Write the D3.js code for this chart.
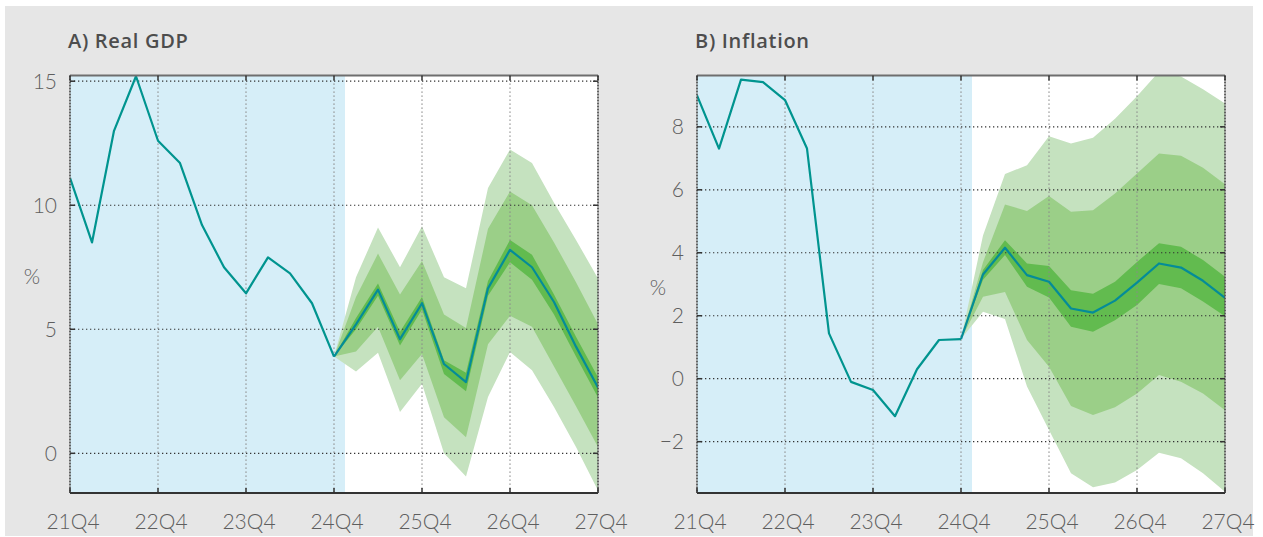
<!DOCTYPE html>
<html>
<head>
<meta charset="utf-8">
<script src="https://cdn.jsdelivr.net/npm/d3@7"></script>
<style>
body { margin: 0; background: #fff; }
text { font-family: Lato, "Open Sans", sans-serif; }
</style>
</head>
<body>
<script>
var width = 1263;
var height = 537;

// quarters on the x axis, 21Q4 .. 27Q4
var quarters = ["21Q4","22Q1","22Q2","22Q3","22Q4","23Q1","23Q2","23Q3","23Q4",
                "24Q1","24Q2","24Q3","24Q4","25Q1","25Q2","25Q3","25Q4",
                "26Q1","26Q2","26Q3","26Q4","27Q1","27Q2","27Q3","27Q4"];
var yearTicks = ["21Q4","22Q4","23Q4","24Q4","25Q4","26Q4","27Q4"];
var histQuarters = quarters.slice(0, 13);   // 21Q4 .. 24Q4
var fcQuarters = quarters.slice(12);        // 24Q4 .. 27Q4

// A) Real GDP
var gdpHist = [11.1, 8.5, 13.0, 15.2, 12.6, 11.7, 9.2, 7.5, 6.45, 7.9, 7.25, 6.05, 3.9];
var gdpMedian = [3.9, 5.2, 6.6, 4.6, 6.05, 3.6, 2.87, 6.65, 8.2, 7.5, 6.1, 4.3, 2.65];
var gdpOuterHi = [3.9, 7.1, 9.1, 7.5, 9.15, 7.1, 6.65, 10.7, 12.25, 11.7, 10.1, 8.6, 7.05];
var gdpMidHi = [3.9, 6.3, 8.05, 6.4, 7.75, 5.6, 5.05, 9.05, 10.55, 10.0, 8.5, 6.9, 5.2];
var gdpInnerHi = [3.9, 5.45, 6.85, 4.9, 6.3, 3.75, 3.25, 6.95, 8.6, 8.0, 6.4, 4.7, 3.07];
var gdpInnerLo = [3.9, 5.0, 6.35, 4.35, 5.8, 3.2, 2.5, 6.35, 7.7, 7.0, 5.6, 3.9, 2.25];
var gdpMidLo = [3.9, 4.1, 5.1, 2.95, 4.0, 1.45, 0.65, 4.4, 5.55, 5.1, 3.5, 1.9, 0.25];
var gdpOuterLo = [3.9, 3.3, 4.05, 1.67, 2.8, 0.0, -0.93, 2.27, 4.08, 3.35, 1.87, 0.25, -1.5];
var gdpTicks = [0, 5, 10, 15];

// B) Inflation
var cpiHist = [9.0, 7.31, 9.5, 9.42, 8.85, 7.31, 1.44, -0.1, -0.36, -1.19, 0.3, 1.23, 1.26];
var cpiMedian = [1.26, 3.31, 4.16, 3.29, 3.08, 2.23, 2.1, 2.48, 3.05, 3.66, 3.53, 3.11, 2.57];
var cpiOuterHi = [1.26, 4.55, 6.5, 6.78, 7.7, 7.47, 7.65, 8.26, 8.97, 9.75, 9.6, 9.19, 8.74];
var cpiMidHi = [1.26, 3.7, 5.53, 5.33, 5.8, 5.3, 5.35, 5.88, 6.52, 7.15, 7.08, 6.7, 6.18];
var cpiInnerHi = [1.26, 3.45, 4.4, 3.66, 3.58, 2.81, 2.7, 3.08, 3.71, 4.3, 4.19, 3.77, 3.24];
var cpiInnerLo = [1.26, 3.14, 3.93, 2.92, 2.58, 1.65, 1.49, 1.86, 2.34, 3.01, 2.87, 2.45, 1.98];
var cpiMidLo = [1.26, 2.6, 2.75, 1.23, 0.38, -0.87, -1.15, -0.91, -0.47, 0.12, -0.1, -0.47, -1.0];
var cpiOuterLo = [1.26, 2.13, 1.9, -0.25, -1.63, -3.0, -3.45, -3.3, -2.9, -2.35, -2.53, -3.0, -3.59];
var cpiTicks = [-2, 0, 2, 4, 6, 8];

var lineColor = "#00948f";
var bandColors = ["#c5e2bf", "#9bcf88", "#62bb4f"];

var svg = d3.select("body").append("svg")
    .attr("width", width)
    .attr("height", height);

svg.append("rect")
    .attr("x", 5).attr("y", 6)
    .attr("width", 1248).attr("height", 530)
    .attr("fill", "#e6e6e6");

function drawPanel(p) {
  var top = 75.5, bottom = 493;
  var x = d3.scalePoint().domain(quarters).range([p.left, p.right]);
  var y = d3.scaleLinear().domain(p.domain).range([bottom, top]);
  var step = x.step();

  var g = svg.append("g");

  g.append("clipPath").attr("id", p.id + "clip")
    .append("rect")
    .attr("x", p.left).attr("y", top)
    .attr("width", p.right - p.left).attr("height", bottom - top);

  g.append("rect")
    .attr("x", p.left).attr("y", top)
    .attr("width", p.right - p.left).attr("height", bottom - top)
    .attr("fill", "#fff");

  // history shading up to half a quarter after 24Q4
  g.append("rect")
    .attr("x", p.left).attr("y", top)
    .attr("width", x("24Q4") + step / 2 - p.left).attr("height", bottom - top)
    .attr("fill", "#d6eef8");

  var plot = g.append("g").attr("clip-path", "url(#" + p.id + "clip)");

  var bands = [[p.outerLo, p.outerHi], [p.midLo, p.midHi], [p.innerLo, p.innerHi]];
  bands.forEach(function(b, k) {
    var area = d3.area()
      .x(function(d, i) { return x(fcQuarters[i]); })
      .y0(function(d, i) { return y(b[0][i]); })
      .y1(function(d, i) { return y(b[1][i]); });
    plot.append("path")
      .datum(fcQuarters)
      .attr("d", area)
      .attr("fill", bandColors[k]);
  });

  // gridlines
  plot.selectAll(".vgrid")
    .data(yearTicks.slice(1, -1))
    .enter().append("line")
    .attr("x1", function(d) { return x(d); })
    .attr("x2", function(d) { return x(d); })
    .attr("y1", top).attr("y2", bottom)
    .attr("stroke", "#8a8a8a")
    .attr("stroke-width", 1.3)
    .attr("stroke-dasharray", "1.3,2.7");

  plot.selectAll(".hgrid")
    .data(p.ticks)
    .enter().append("line")
    .attr("x1", p.left).attr("x2", p.right)
    .attr("y1", function(d) { return y(d); })
    .attr("y2", function(d) { return y(d); })
    .attr("stroke", "#333")
    .attr("stroke-width", 1.2)
    .attr("stroke-dasharray", "1.3,2.7");

  var line = d3.line()
    .x(function(d) { return x(d.q); })
    .y(function(d) { return y(d.v); });

  var histData = histQuarters.map(function(q, i) { return {q: q, v: p.hist[i]}; });
  var fcData = fcQuarters.map(function(q, i) { return {q: q, v: p.median[i]}; });

  plot.append("path").datum(histData)
    .attr("d", line).attr("fill", "none")
    .attr("stroke", lineColor).attr("stroke-width", 2.2)
    .attr("stroke-linejoin", "round");
  plot.append("path").datum(fcData)
    .attr("d", line).attr("fill", "none")
    .attr("stroke", "#048c98").attr("stroke-width", 2.2)
    .attr("stroke-linejoin", "round");

  // frame
  g.append("line")
    .attr("x1", p.left).attr("x2", p.right).attr("y1", top).attr("y2", top)
    .attr("stroke", "#6e6e6e").attr("stroke-width", 2);
  g.append("line")
    .attr("x1", p.left).attr("x2", p.right).attr("y1", bottom).attr("y2", bottom)
    .attr("stroke", "#333").attr("stroke-width", 2);
  [p.left, p.right].forEach(function(xx) {
    g.append("line")
      .attr("x1", xx).attr("x2", xx).attr("y1", top).attr("y2", bottom)
      .attr("stroke", "#555").attr("stroke-width", 1.8)
      .attr("stroke-dasharray", "2,1");
  });

  // ticks
  yearTicks.forEach(function(q) {
    g.append("line")
      .attr("x1", x(q)).attr("x2", x(q)).attr("y1", top).attr("y2", top + 5)
      .attr("stroke", "#333").attr("stroke-width", 1.5);
    g.append("line")
      .attr("x1", x(q)).attr("x2", x(q)).attr("y1", bottom).attr("y2", bottom - 5)
      .attr("stroke", "#333").attr("stroke-width", 1.5);
  });
  p.ticks.forEach(function(t) {
    g.append("line")
      .attr("x1", p.left).attr("x2", p.left + 5).attr("y1", y(t)).attr("y2", y(t))
      .attr("stroke", "#333").attr("stroke-width", 1.5);
    g.append("line")
      .attr("x1", p.right).attr("x2", p.right - 5).attr("y1", y(t)).attr("y2", y(t))
      .attr("stroke", "#333").attr("stroke-width", 1.5);
  });

  // labels
  g.selectAll(".xl")
    .data(yearTicks)
    .enter().append("text")
    .attr("x", function(d) { return x(d) + 3; })
    .attr("y", 529)
    .attr("text-anchor", "middle")
    .attr("font-size", 21)
    .attr("font-weight", 300)
    .attr("fill", "#5e5e5e")
    .text(function(d) { return d; });

  g.selectAll(".yl")
    .data(p.ticks)
    .enter().append("text")
    .attr("x", p.left - 13)
    .attr("y", function(d) { return y(d) + 7.5; })
    .attr("text-anchor", "end")
    .attr("font-size", 21)
    .attr("font-weight", 300)
    .attr("fill", "#5e5e5e")
    .text(function(d) { return d < 0 ? "\u2212" + Math.abs(d) : d; });

  g.append("text")
    .attr("x", p.pctX).attr("y", p.pctY)
    .attr("text-anchor", "middle")
    .attr("font-size", 21)
    .attr("font-weight", 300)
    .attr("fill", "#5e5e5e")
    .text("%");

  g.append("text")
    .attr("x", p.left - 2).attr("y", 48)
    .style("font-family", "'Open Sans', Lato, sans-serif")
    .style("letter-spacing", "0.7px")
    .attr("font-size", 20)
    .attr("font-weight", 600)
    .attr("fill", "#4d4d4d")
    .text(p.title);
}

drawPanel({
  id: "gdp", title: "A) Real GDP", left: 70, right: 598, domain: [-1.6, 15.23],
  ticks: gdpTicks, hist: gdpHist, median: gdpMedian,
  outerLo: gdpOuterLo, outerHi: gdpOuterHi, midLo: gdpMidLo, midHi: gdpMidHi,
  innerLo: gdpInnerLo, innerHi: gdpInnerHi, pctX: 32, pctY: 284
});

drawPanel({
  id: "cpi", title: "B) Inflation", left: 697, right: 1225, domain: [-3.63, 9.63],
  ticks: cpiTicks, hist: cpiHist, median: cpiMedian,
  outerLo: cpiOuterLo, outerHi: cpiOuterHi, midLo: cpiMidLo, midHi: cpiMidHi,
  innerLo: cpiInnerLo, innerHi: cpiInnerHi, pctX: 658, pctY: 295
});
</script>
</body>
</html>
